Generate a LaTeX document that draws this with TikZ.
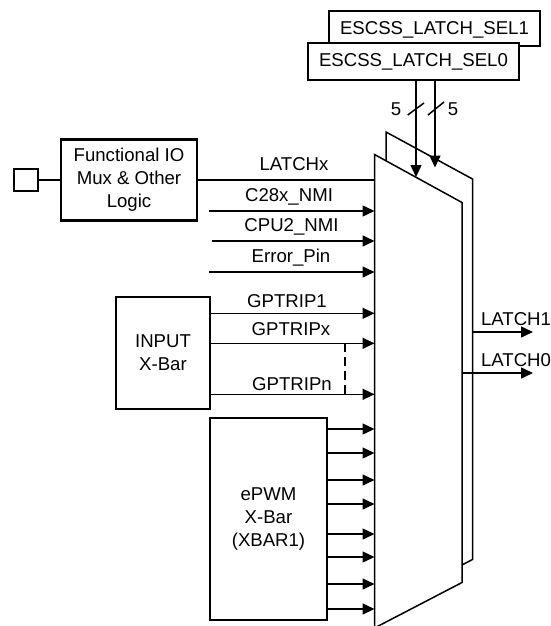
\documentclass[tikz,border=0pt]{standalone}
\usepackage{fontspec}
\setmainfont{Liberation Sans}
\usetikzlibrary{arrows.meta,calc}
\begin{document}
\begin{tikzpicture}[x=1pt,y=-1pt,
  wire/.style={line width=1.5pt},
  arr/.style={wire,-{Triangle[length=12pt,width=11pt]}},
  box/.style={draw,line width=2.4pt,fill=white,inner sep=0pt,align=center,font=\fontsize{18.6}{23}\selectfont},
  lbl/.style={anchor=base,inner sep=0pt,font=\fontsize{18.6}{22}\selectfont},
  muxshape/.style={line width=1.5pt,fill=white}]
\useasboundingbox (0,0) rectangle (551,626);

% multiplexers
\draw[muxshape] (386,132) -- (472.5,179) -- (472.5,559.5) -- (386,604.5) -- cycle;
\draw[muxshape] (374.5,154.5) -- (462,202.5) -- (462,582.5) -- (374.5,628) -- cycle;
\coordinate (mL) at (374.5,0);
\coordinate (bR) at (472.5,0);
\coordinate (fR) at (462,0);

% select registers
\node[box,minimum width=211pt,minimum height=35pt] (sel1) at (434.5,28.5) {};
\node[lbl] at (434.5,34.3) {ESCSS\_LATCH\_SEL1};
\node[box,minimum width=211pt,minimum height=37pt] (sel0) at (413.5,61.5) {ESCSS\_LATCH\_SEL0};

\coordinate (s0) at (416,177);
\coordinate (s1) at (435,167.5);
\draw[arr] (sel0.south -| s0) -- (s0);
\draw[arr] (sel0.south -| s1) -- (s1);
\coordinate (k1a) at (407.7,115); \coordinate (k1b) at (424,103);
\coordinate (k2a) at (428,115);   \coordinate (k2b) at (444,102);
\draw[wire] (k1a) -- (k1b);
\draw[wire] (k2a) -- (k2b);
\node[lbl] at (396,115) {5};
\node[lbl] at (453,115) {5};

% functional IO mux
\node[draw,line width=1.5pt,minimum width=24pt,minimum height=22pt,inner sep=0pt] (pin) at (26,180) {};
\node[box,minimum width=136pt,minimum height=81pt] (fio) at (129,180) {Functional IO\\Mux \& Other\\Logic};
\draw[wire] (pin) -- (fio);
\draw[wire] (fio.east) -- (fio.east -| mL);
\node[lbl] at (294,170.7) {LATCHx};

\coordinate (c28) at (209,211);
\coordinate (cpu2) at (212,241);
\coordinate (err) at (209,272);
\draw[arr] (c28) -- (c28 -| mL);
\draw[arr] (cpu2) -- (cpu2 -| mL);
\draw[arr] (err) -- (err -| mL);
\node[lbl] at (289,201.7) {C28x\_NMI};
\node[lbl] at (291.5,231.7) {CPU2\_NMI};
\node[lbl] at (291,262.3) {Error\_Pin};

% input x-bar
\node[box,minimum width=94pt,minimum height=112pt] (ixb) at (163,353) {INPUT\\X-Bar};
\coordinate (g1) at (0,313.3);
\coordinate (gx) at (0,343.3);
\coordinate (gn) at (0,394.3);
\draw[arr] (ixb.east |- g1) -- (mL |- g1);
\draw[arr] (ixb.east |- gx) -- (mL |- gx);
\draw[arr] (ixb.east |- gn) -- (mL |- gn);
\node[lbl] at (287,307.7) {GPTRIP1};
\node[lbl] at (291,335) {GPTRIPx};
\node[lbl] at (292,390) {GPTRIPn};
\coordinate (da) at (345,343.3);
\coordinate (db) at (345,394.3);
\draw[wire,dash pattern=on 9pt off 5pt] (da) -- (db);

% ePWM x-bar
\node[box,minimum width=117pt,minimum height=202pt] (epw) at (268.5,519) {ePWM\\X-Bar\\(XBAR1)};
\foreach \yy in {429,453,480,504,534,557,584,609}{
  \draw[arr] (epw.east |- 0,\yy) -- (mL |- 0,\yy);
}

% outputs
\coordinate (l1) at (533,332);
\coordinate (l0) at (533,373);
\draw[arr] (bR |- l1) -- (l1);
\draw[arr] (fR |- l0) -- (l0);
\node[lbl] at (516,325) {LATCH1};
\node[lbl] at (516,366) {LATCH0};
\end{tikzpicture}
\end{document}
